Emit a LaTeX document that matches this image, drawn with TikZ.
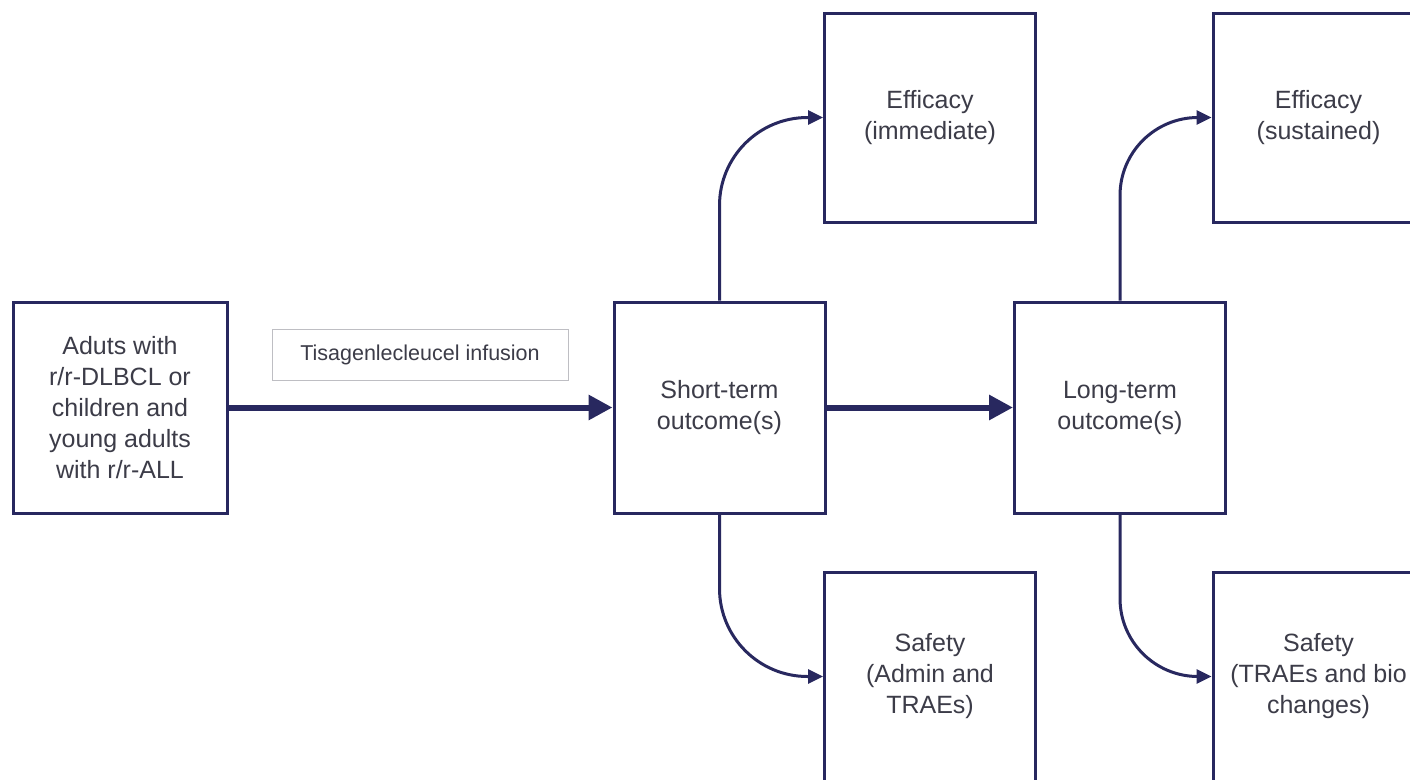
\documentclass[tikz,border=0pt]{standalone}
\usepackage{fontspec}
\setmainfont{Liberation Sans}
\usetikzlibrary{arrows.meta}
\definecolor{navy}{RGB}{40,40,95}
\definecolor{txt}{RGB}{60,60,72}
\definecolor{lblborder}{RGB}{190,190,195}
\begin{document}
\begin{tikzpicture}[x=1pt,y=-1pt,
 box/.style={draw=navy, line width=3pt, fill=white, minimum width=211pt, minimum height=209pt, inner sep=0pt, align=center, text=txt, font=\fontsize{25}{31}\selectfont},
 lbl/.style={draw=lblborder, line width=1pt, minimum width=296pt, minimum height=51pt, inner sep=0pt, text=txt, font=\fontsize{21.5}{24}\selectfont},
 bigarrow/.style={draw=navy, line width=6pt, -{Triangle[length=24pt,width=24pt]}},
 smallarrow/.style={draw=navy, line width=3pt, -{Triangle[length=15pt,width=14pt]}},
]
\useasboundingbox (0,0) rectangle (1410,779);
\clip (0,0) rectangle (1410,779);
\fill[white] (0,0) rectangle (1410,779);

\node[box, minimum width=214pt, minimum height=211pt] (pop) at (120,407.5) {Aduts with\\r/r-DLBCL or\\children and\\young adults\\with r/r-ALL};
\node[lbl] (inf) at (420,355) {Tisagenlecleucel infusion};
\node[box, minimum height=211pt] (st) at (719.5,407.5) {Short-term\\outcome(s)};
\node[box, minimum height=211pt] (lt) at (1120,407.5) {Long-term\\outcome(s)};
\node[box] (ei) at (930,117.5) {Efficacy\\(immediate)};
\node[box] (es) at (1318.5,117.5) {Efficacy\\(sustained)};
\node[box] (sa) at (930,676.5) {Safety\\(Admin and\\TRAEs)};
\node[box] (sb) at (1318.5,676.5) {Safety\\(TRAEs and bio\\changes)};

\draw[bigarrow] (pop.east) -- (st.west);
\draw[bigarrow] (st.east) -- (lt.west);
\draw[smallarrow, rounded corners=88pt] (st.north) |- (ei.west);
\draw[smallarrow, rounded corners=88pt] (st.south) |- (sa.west);
\draw[smallarrow, rounded corners=78pt] (lt.north) |- (es.west);
\draw[smallarrow, rounded corners=78pt] (lt.south) |- (sb.west);
\end{tikzpicture}
\end{document}
